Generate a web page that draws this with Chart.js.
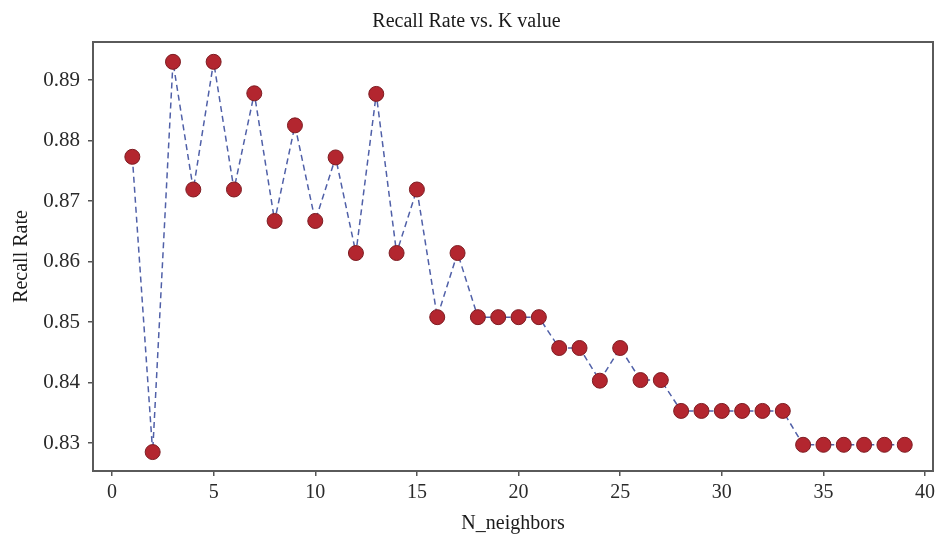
<!DOCTYPE html>
<html>
<head>
<meta charset="utf-8">
<script src="https://cdn.jsdelivr.net/npm/chart.js@4/dist/chart.umd.min.js"></script>
<style>
  html, body { margin: 0; padding: 0; background: #ffffff; }
  #wrap { width: 935px; height: 536px; position: relative; }
</style>
</head>
<body>
<div id="wrap"><canvas id="c" width="935" height="536"></canvas></div>
<script>
// ---- data ----
const kValues = [1,2,3,4,5,6,7,8,9,10,11,12,13,14,15,16,17,18,19,20,21,22,23,24,25,26,27,28,29,30,31,32,33,34,35,36,37,38,39];
const recallRates = [
  0.8773, 0.8285, 0.8930, 0.8719, 0.8930, 0.8719, 0.8878, 0.8667, 0.8825, 0.8667,
  0.8772, 0.8614, 0.8877, 0.8614, 0.8719, 0.8508, 0.8614, 0.8508, 0.8508, 0.8508,
  0.8508, 0.8457, 0.8457, 0.8403, 0.8457, 0.8404, 0.8404, 0.8353, 0.8353, 0.8353,
  0.8353, 0.8353, 0.8353, 0.8297, 0.8297, 0.8297, 0.8297, 0.8297, 0.8297
];
const xTickValues = [0, 5, 10, 15, 20, 25, 30, 35, 40];
const yTickValues = [0.83, 0.84, 0.85, 0.86, 0.87, 0.88, 0.89];
const titleText = 'Recall Rate vs. K value';
const xTitleText = 'N_neighbors';
const yTitleText = 'Recall Rate';

const points = kValues.map((k, i) => ({ x: k, y: recallRates[i] }));
const serif = '"Liberation Serif", "DejaVu Serif", serif';

const framePlugin = {
  id: 'frame',
  afterDraw(chart) {
    const { ctx, chartArea: a } = chart;
    ctx.save();
    ctx.strokeStyle = '#5a5a5a';
    ctx.lineWidth = 2;
    ctx.strokeRect(a.left, a.top, a.right - a.left, a.bottom - a.top);
    ctx.restore();
  }
};

new Chart(document.getElementById('c'), {
  type: 'scatter',
  data: {
    datasets: [{
      data: points,
      showLine: true,
      borderColor: '#5060a8',
      borderWidth: 1.5,
      borderDash: [6, 4],
      pointRadius: 7.5,
      pointBackgroundColor: '#b3262f',
      pointBorderColor: '#7d1c22',
      pointBorderWidth: 1,
      pointHoverRadius: 7.5,
      tension: 0
    }]
  },
  options: {
    responsive: false,
    animation: false,
    devicePixelRatio: 1,
    layout: { autoPadding: false, padding: { left: 0, right: 2, top: 0, bottom: 0 } },
    plugins: {
      legend: { display: false },
      tooltip: { enabled: false },
      title: {
        display: true,
        text: titleText,
        color: '#1a1a1a',
        font: { family: serif, size: 20, weight: 'normal' },
        padding: { top: 10, bottom: 8 }
      }
    },
    scales: {
      x: {
        type: 'linear',
        min: -0.935,
        max: 40.39,
        afterBuildTicks: (s) => { s.ticks = xTickValues.map(v => ({ value: v })); },
        afterFit: (s) => { s.height = 65; s.paddingRight = 0; s.paddingLeft = 0; },
        grid: { drawOnChartArea: false, drawTicks: true, tickLength: 5, color: '#555', lineWidth: 1.5 },
        border: { display: false },
        ticks: {
          color: '#2a2a2a',
          font: { family: serif, size: 20 },
          padding: 5,
          maxRotation: 0,
          autoSkip: false,
          callback: (v) => String(v)
        },
        title: {
          display: true,
          text: xTitleText,
          color: '#1a1a1a',
          font: { family: serif, size: 20 },
          padding: { top: 1, bottom: 0 }
        }
      },
      y: {
        type: 'linear',
        min: 0.82537,
        max: 0.89628,
        afterBuildTicks: (s) => { s.ticks = yTickValues.map(v => ({ value: v })); },
        afterFit: (s) => { s.width = 93; },
        grid: { drawOnChartArea: false, drawTicks: true, tickLength: 5, color: '#555', lineWidth: 1.5 },
        border: { display: false },
        ticks: {
          color: '#2a2a2a',
          font: { family: serif, size: 21 },
          padding: 8,
          autoSkip: false,
          callback: (v) => v.toFixed(2)
        },
        title: {
          display: true,
          text: yTitleText,
          color: '#1a1a1a',
          font: { family: serif, size: 20 },
          padding: { top: 10, bottom: 0 }
        }
      }
    }
  },
  plugins: [framePlugin]
});
</script>
</body>
</html>
